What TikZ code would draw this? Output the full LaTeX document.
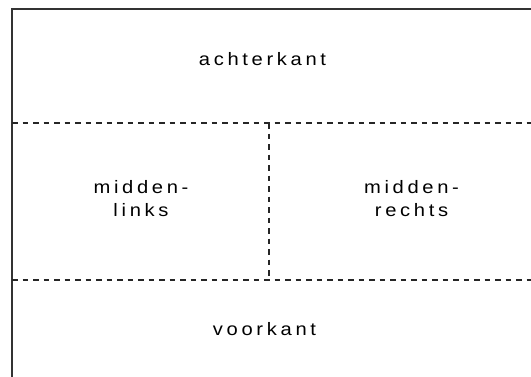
\documentclass[tikz,border=0pt]{standalone}
\usepackage{fontspec}
\setmainfont{Liberation Sans}[FakeStretch=1.12,LetterSpace=20.4]
\begin{document}
\begin{tikzpicture}[x=1pt,y=-1pt,
    zone/.style={font=\fontsize{18}{23.4}\selectfont,text=black,align=center,anchor=base,inner sep=0pt},
    divider/.style={black!85,line width=1.1pt,dash pattern=on 5.5pt off 5pt}]
        \useasboundingbox (0,0) rectangle (531,376);
        \clip (0,0) rectangle (531,376);
        \draw[black!80,line width=2pt] (12,9) rectangle (536,390);
        \coordinate (backL) at (12,123);
        \coordinate (backR) at (536,123);
        \coordinate (frontL) at (12,280);
        \coordinate (frontR) at (536,280);
        \coordinate (midT) at (269,123);
        \coordinate (midB) at (269,280);
        \draw[divider] (backL) -- (backR);
        \draw[divider] (frontL) -- (frontR);
        \draw[divider] (midT) -- (midB);
        \node[zone] at (262.5,65)    (back)   {achterkant};
        \node[zone] at (141,216.7) (left)   {midden-\\links};
        \node[zone] at (411.5,216.7) (right)  {midden-\\rechts};
        \node[zone] at (264.5,335)   (front)  {voorkant};
      \end{tikzpicture}
\end{document}
